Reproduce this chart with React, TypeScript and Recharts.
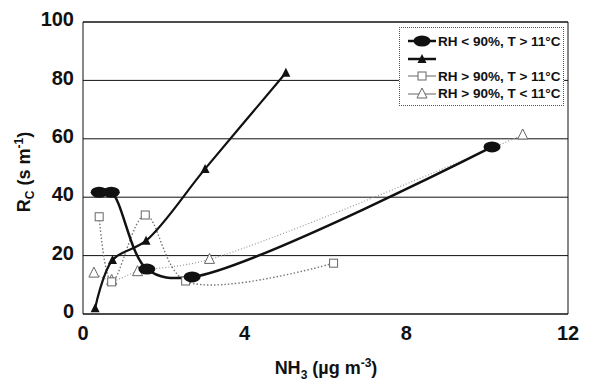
import React from 'react'
import { LineChart, Line, XAxis, YAxis, CartesianGrid, ReferenceLine } from 'recharts'

// values: NH3 (ug m-3) vs Rc (s m-1)
const dryWarmX = [0.4, 0.7, 1.58, 2.7, 10.12]
const dryWarmY = [41.7, 41.7, 15.4, 12.7, 57.2]

const unnamedX = [0.3, 0.73, 1.56, 3.02, 5.02]
const unnamedY = [2, 18.5, 25.1, 49.7, 82.6]

const wetWarmX = [0.4, 0.71, 1.54, 2.54, 6.2]
const wetWarmY = [33.3, 11, 33.9, 11.3, 17.4]

const wetColdX = [0.27, 0.71, 1.35, 3.13, 10.88]
const wetColdY = [14, 11.5, 14.5, 18.7, 61.3]

const xTicks = [0, 4, 8, 12]
const yTicks = [0, 20, 40, 60, 80, 100]

const legendLabels = ['RH < 90%, T > 11°C', '', 'RH > 90%, T > 11°C', 'RH > 90%, T < 11°C']

const toPoints = (xs: number[], ys: number[]) => xs.map((x, i) => ({ x, y: ys[i] }))

const INK = '#111'
const FONT = '"Liberation Sans", Arial, sans-serif'

const tickStyle = { fontSize: 20, fontWeight: 'bold', fill: INK, fontFamily: FONT }

// smoothed line, centripetal catmull-rom in pixel space (keeps overshoot small)
const smoothCurve = (context: any) => {
  let pts: [number, number][] = []
  const dist = (a: [number, number], b: [number, number]) => Math.sqrt(Math.hypot(a[0] - b[0], a[1] - b[1]))
  return {
    areaStart() {},
    areaEnd() {},
    lineStart() {
      pts = []
    },
    point(x: number, y: number) {
      pts.push([x, y])
    },
    lineEnd() {
      if (!pts.length) return
      context.moveTo(pts[0][0], pts[0][1])
      for (let i = 0; i < pts.length - 1; i++) {
        const p0 = pts[i - 1] || pts[i]
        const p1 = pts[i]
        const p2 = pts[i + 1]
        const p3 = pts[i + 2] || pts[i + 1]
        const l01 = dist(p0, p1)
        const l12 = dist(p1, p2)
        const l23 = dist(p2, p3)
        let c1: [number, number] = [p1[0], p1[1]]
        let c2: [number, number] = [p2[0], p2[1]]
        if (l01 > 1e-6) {
          const a = 2 * l01 * l01 + 3 * l01 * l12 + l12 * l12
          const n = 3 * l01 * (l01 + l12)
          c1 = [
            (p1[0] * a - p0[0] * l12 * l12 + p2[0] * l01 * l01) / n,
            (p1[1] * a - p0[1] * l12 * l12 + p2[1] * l01 * l01) / n,
          ]
        }
        if (l23 > 1e-6) {
          const b = 2 * l23 * l23 + 3 * l23 * l12 + l12 * l12
          const m = 3 * l23 * (l23 + l12)
          c2 = [
            (p2[0] * b + p1[0] * l23 * l23 - p3[0] * l12 * l12) / m,
            (p2[1] * b + p1[1] * l23 * l23 - p3[1] * l12 * l12) / m,
          ]
        }
        context.bezierCurveTo(c1[0], c1[1], c2[0], c2[1], p2[0], p2[1])
      }
    },
  }
}

// marker shapes
const ellipseMark = (cx: number, cy: number) => <ellipse cx={cx} cy={cy} rx={8.5} ry={5.5} fill={INK} />
const triMark = (cx: number, cy: number) => (
  <path d={`M${cx},${cy - 5} L${cx + 4.5},${cy + 4} L${cx - 4.5},${cy + 4} Z`} fill={INK} />
)
const squareMark = (cx: number, cy: number) => (
  <rect x={cx - 4} y={cy - 4} width={8} height={8} fill="#fff" stroke="#666" strokeWidth={1} />
)
const openTriMark = (cx: number, cy: number) => (
  <path d={`M${cx},${cy - 6} L${cx + 5},${cy + 4} L${cx - 5},${cy + 4} Z`} fill="#fff" stroke="#666" strokeWidth={1} />
)

const dotFrom = (mark: (cx: number, cy: number) => React.ReactElement) => (props: any) => (
  <g key={`d-${props.index}`}>{mark(props.cx, props.cy)}</g>
)

const XTitle = () => (
  <text x={326} y={374} textAnchor="middle" fontSize={18} fontWeight="bold" fill={INK} fontFamily={FONT}>
    NH<tspan dy={5} fontSize={12}>3</tspan>
    <tspan dy={-5}> (µg m</tspan>
    <tspan dy={-7} fontSize={12}>-3</tspan>
    <tspan dy={7}>)</tspan>
  </text>
)

const YTitle = () => (
  <text transform="translate(30,172) rotate(-90)" textAnchor="middle" fontSize={18} fontWeight="bold" fill={INK} fontFamily={FONT}>
    R<tspan dy={4} fontSize={12}>C</tspan>
    <tspan dy={-4}> (s m</tspan>
    <tspan dy={-7} fontSize={12}>-1</tspan>
    <tspan dy={7}>)</tspan>
  </text>
)

const legendIcons = [
  { mark: ellipseMark, stroke: INK, width: 2.5 },
  { mark: triMark, stroke: INK, width: 2.5 },
  { mark: squareMark, stroke: '#666', width: 1 },
  { mark: openTriMark, stroke: '#666', width: 1 },
]

function LegendBox() {
  const rowY = [40, 57.5, 75, 92.5]
  return (
    <div
      style={{
        position: 'absolute',
        left: 399,
        top: 27,
        width: 165,
        height: 79,
        boxSizing: 'border-box',
        border: '1px dotted #555',
        background: '#fff',
      }}
    >
      {legendLabels.map((label, i) => (
        <div
          key={i}
          style={{
            position: 'absolute',
            left: 7,
            top: rowY[i] - 27 - 8,
            height: 16,
            display: 'flex',
            alignItems: 'center',
            whiteSpace: 'nowrap',
          }}
        >
          <svg width={30} height={16} style={{ display: 'block' }}>
            <line x1={1} y1={8} x2={29} y2={8} stroke={legendIcons[i].stroke} strokeWidth={legendIcons[i].width} />
            {legendIcons[i].mark(15, 8)}
          </svg>
          <span style={{ marginLeft: 1, fontFamily: FONT, fontSize: 13.5, fontWeight: 'bold', color: INK }}>{label}</span>
        </div>
      ))}
    </div>
  )
}

export default function App() {
  return (
    <div style={{ position: 'absolute', left: 0, top: 0, width: 591, height: 381, background: '#fff' }}>
      <LineChart width={591} height={381} margin={{ top: 22, right: 23, bottom: 0, left: 0 }}>
        <CartesianGrid horizontal vertical={false} stroke={INK} strokeWidth={1} />
        <XAxis
          type="number"
          dataKey="x"
          domain={[0, 12]}
          ticks={xTicks}
          height={67}
          tickSize={0}
          tickMargin={12}
          tick={tickStyle}
          axisLine={{ stroke: INK, strokeWidth: 1 }}
          label={{ content: XTitle }}
        />
        <YAxis
          type="number"
          dataKey="y"
          domain={[0, 100]}
          ticks={yTicks}
          width={83}
          tickSize={0}
          tickMargin={9}
          tick={{ ...tickStyle, dy: -3 }}
          axisLine={{ stroke: INK, strokeWidth: 1 }}
          label={{ content: YTitle }}
        />
        <ReferenceLine y={100} stroke={INK} strokeWidth={1} />
        <ReferenceLine x={12} stroke={INK} strokeWidth={1} />
        <Line
          data={toPoints(wetColdX, wetColdY)}
          dataKey="y"
          type={smoothCurve as any}
          stroke="#999"
          strokeWidth={1.2}
          strokeDasharray="1 2"
          dot={dotFrom(openTriMark)}
          isAnimationActive={false}
        />
        <Line
          data={toPoints(wetWarmX, wetWarmY)}
          dataKey="y"
          type={smoothCurve as any}
          stroke="#777"
          strokeWidth={1.4}
          strokeDasharray="1.5 2"
          dot={dotFrom(squareMark)}
          isAnimationActive={false}
        />
        <Line
          data={toPoints(unnamedX, unnamedY)}
          dataKey="y"
          type={smoothCurve as any}
          stroke={INK}
          strokeWidth={2.2}
          dot={dotFrom(triMark)}
          isAnimationActive={false}
        />
        <Line
          data={toPoints(dryWarmX, dryWarmY)}
          dataKey="y"
          type={smoothCurve as any}
          stroke={INK}
          strokeWidth={2.5}
          dot={dotFrom(ellipseMark)}
          isAnimationActive={false}
        />
      </LineChart>
      <LegendBox />
    </div>
  )
}
